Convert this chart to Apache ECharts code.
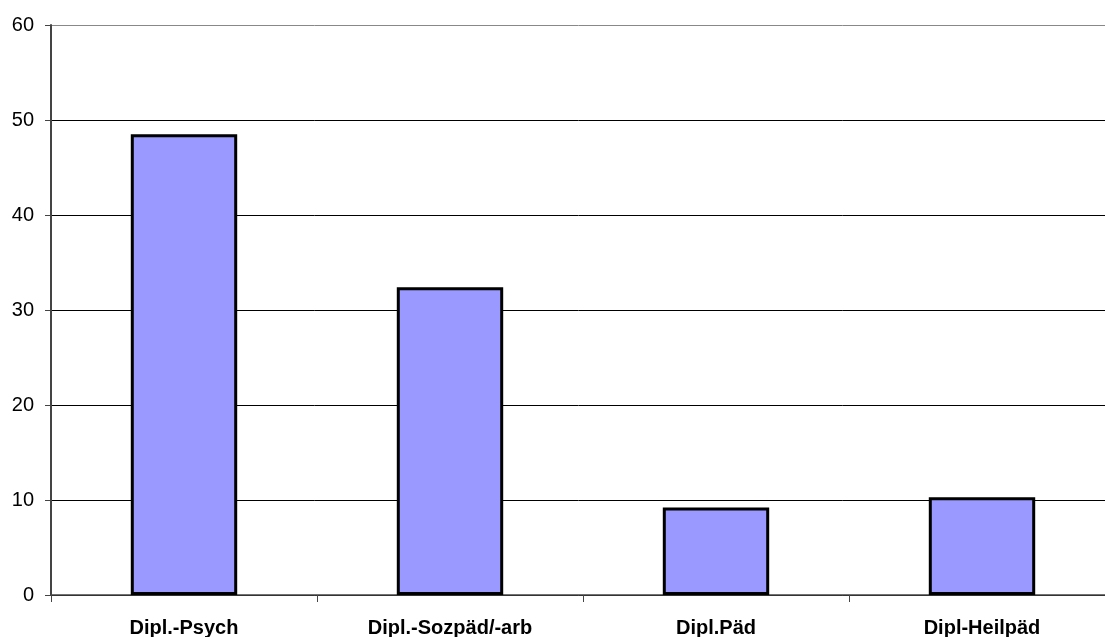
<!DOCTYPE html>
<html>
<head>
<meta charset="utf-8">
<script src="https://cdn.jsdelivr.net/npm/echarts@6/dist/echarts.min.js"></script>
<style>
  html, body { margin: 0; padding: 0; background: #fff; }
  #chart { width: 1105px; height: 637px; }
</style>
</head>
<body>
<div id="chart"></div>
<script>
// Studienabschlüsse (Anteile)
const categories = ['Dipl.-Psych', 'Dipl.-Sozpäd/-arb', 'Dipl.Päd', 'Dipl-Heilpäd'];
const values = [48.5, 32.4, 9.2, 10.3];
const yMin = 0, yMax = 60, yStep = 10;

const chart = echarts.init(document.getElementById('chart'), null, { renderer: 'canvas' });
const fontFamily = '"Liberation Sans", Arial, sans-serif';

chart.setOption({
  animation: false,
  backgroundColor: '#ffffff',
  grid: { left: 51, top: 25, right: -10, bottom: 42, containLabel: false, outerBoundsMode: 'none' },
  xAxis: {
    type: 'category',
    data: categories,
    axisLine: { show: true, lineStyle: { color: '#444', width: 1.5 } },
    axisTick: { show: true, length: 7, lineStyle: { color: '#444', width: 1 } },
    axisLabel: {
      margin: 23,
      color: '#000',
      fontFamily: fontFamily,
      fontWeight: 'bold',
      fontSize: 20
    },
    splitLine: { show: false }
  },
  yAxis: {
    type: 'value',
    min: yMin,
    max: yMax,
    interval: yStep,
    axisLine: { show: true, lineStyle: { color: '#444', width: 2 } },
    axisTick: { show: true, length: 6, lineStyle: { color: '#444', width: 1 } },
    axisLabel: {
      margin: 17,
      color: '#000',
      fontFamily: fontFamily,
      fontSize: 20
    },
    splitLine: {
      show: true,
      lineStyle: {
        color: ['#000', '#000', '#000', '#000', '#000', '#000', '#888'],
        width: 1
      }
    }
  },
  series: [{
    type: 'bar',
    data: values,
    barWidth: '40%',
    itemStyle: {
      color: '#9999ff',
      borderColor: '#000',
      borderWidth: 3
    }
  }]
});
</script>
</body>
</html>
